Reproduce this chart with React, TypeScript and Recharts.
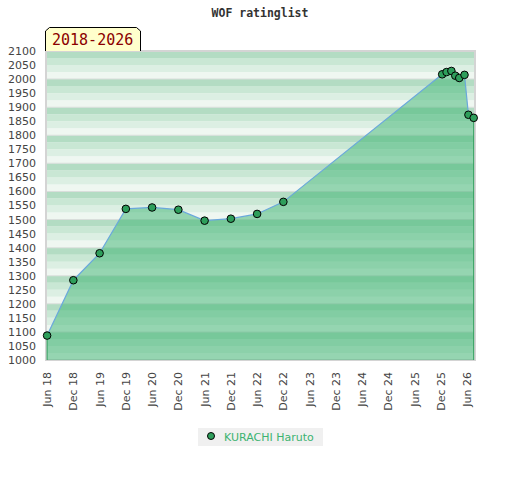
import React from 'react';
import { ComposedChart, Area, XAxis, YAxis, ReferenceArea, ReferenceLine } from 'recharts';

// months after June 2018 at which each rating was recorded
const monthsSinceJun2018 = [0, 6, 12, 18, 24, 30, 36, 42, 48, 54, 90.3, 91.3, 92.4, 93.3, 94.2, 95.4, 96.3, 97.5];
const ratings = [1087, 1284, 1380, 1538, 1543, 1535, 1496, 1503, 1520, 1563, 2017, 2025, 2029, 2012, 2004, 2015, 1873, 1862];

const xTickMonths = [0, 6, 12, 18, 24, 30, 36, 42, 48, 54, 60, 66, 72, 78, 84, 90, 96];
const xTickLabels = ['Jun 18', 'Dec 18', 'Jun 19', 'Dec 19', 'Jun 20', 'Dec 20', 'Jun 21', 'Dec 21', 'Jun 22', 'Dec 22', 'Jun 23', 'Dec 23', 'Jun 24', 'Dec 24', 'Jun 25', 'Dec 25', 'Jun 26'];
const leftTicks = [1000, 1050, 1100, 1150, 1200, 1250, 1300, 1350, 1400, 1450, 1500, 1550, 1600, 1650, 1700, 1750, 1800, 1850, 1900, 1950, 2000, 2050, 2100];
const rightTicks = [1000, 1100, 1200, 1300, 1400, 1500, 1600, 1700, 1800, 1900, 2000];
const rightLabels = [1000, 1200, 1400, 1600, 1800, 2000];
const bandStarts = Array.from({ length: 44 }, (_, i) => 1000 + i * 25);
const hundredLines = [1100, 1200, 1300, 1400, 1500, 1600, 1700, 1800, 1900, 2000];

const seriesName = 'KURACHI Haruto';
const titleText = 'WOF ratinglist';
const periodText = '2018-2026';

const data = monthsSinceJun2018.map((m, i) => ({ m, rating: ratings[i] }));
const X_DOMAIN: [number, number] = [-0.25, 97.8];
const bandColors = ['#eff7f1', '#dcefe3', '#c9e7d4', '#b3dcc3'];

const LeftTick = (props: any) => {
  const { x, y, payload } = props;
  return (
    <text x={x - 10} y={y} dy="0.36em" textAnchor="end" fontSize={11} fill="#444" fontFamily="DejaVu Sans">
      {payload.value}
    </text>
  );
};

const RightTick = (props: any) => {
  const { x, y, payload } = props;
  const show = rightLabels.includes(payload.value);
  return (
    <g>
      <line x1={x - 5} x2={x} y1={y} y2={y} stroke="#000" strokeWidth={1} />
      {show && (
        <text x={x + 7} y={y} dy="0.36em" textAnchor="start" fontSize={11} fill="#222" fontFamily="DejaVu Sans">
          {payload.value}
        </text>
      )}
    </g>
  );
};

const BottomTick = (props: any) => {
  const { x, y, payload } = props;
  const idx = xTickMonths.indexOf(payload.value);
  return (
    <g transform={`translate(${x},${y + 12})`}>
      <text transform="rotate(-90)" textAnchor="end" dy="0.36em" fontSize={11} fill="#444" fontFamily="DejaVu Sans">
        {xTickLabels[idx]}
      </text>
    </g>
  );
};

const Dot = (props: any) => {
  const { cx, cy, index } = props;
  return <circle key={`d${index}`} cx={cx} cy={cy} r={3.8} fill="#2e9e5b" stroke="#000" strokeWidth={1} />;
};

export default function App() {
  const last = data.length - 1;
  return (
    <div style={{ position: 'absolute', left: 0, top: 0, width: 520, height: 480, background: '#fff' }}>
      <ComposedChart width={520} height={480} data={data} margin={{ top: 51, right: 0, bottom: 70, left: 1 }}>
        <XAxis
          dataKey="m"
          type="number"
          domain={X_DOMAIN}
          ticks={xTickMonths}
          interval={0}
          axisLine={false}
          tickLine={false}
          tickSize={0}
          tickMargin={0}
          height={50}
          tick={<BottomTick />}
        />
        <YAxis
          yAxisId="left"
          orientation="left"
          type="number"
          domain={[1000, 2100]}
          ticks={leftTicks}
          interval={0}
          axisLine={false}
          tickLine={false}
          tickSize={0}
          tickMargin={0}
          width={45}
          tick={<LeftTick />}
        />
        <YAxis
          yAxisId="right"
          orientation="right"
          type="number"
          domain={[1000, 2100]}
          ticks={rightTicks}
          interval={0}
          axisLine={false}
          tickLine={false}
          tickSize={0}
          tickMargin={0}
          width={45}
          tick={<RightTick />}
        />
        {bandStarts.map((v) => (
          <ReferenceArea
            key={`b${v}`}
            yAxisId="left"
            x1={X_DOMAIN[0]}
            x2={X_DOMAIN[1]}
            y1={v}
            y2={v + 25}
            fill={bandColors[((v - 1000) % 100) / 25]}
            fillOpacity={1}
            stroke="none"
            ifOverflow="visible"
          />
        ))}
        {hundredLines.map((v) => (
          <ReferenceArea
            key={`h${v}`}
            yAxisId="left"
            x1={X_DOMAIN[0]}
            x2={X_DOMAIN[1]}
            y1={v - 1.8}
            y2={v + 1.8}
            fill="#d9dedb"
            fillOpacity={1}
            stroke="none"
            ifOverflow="visible"
          />
        ))}
        <ReferenceArea
          yAxisId="left"
          x1={X_DOMAIN[0]}
          x2={X_DOMAIN[1]}
          y1={1000}
          y2={2100}
          fill="none"
          stroke="#d4d4d4"
          strokeWidth={2}
          ifOverflow="visible"
        />
        <Area
          yAxisId="left"
          type="linear"
          dataKey="rating"
          name={seriesName}
          stroke="#6aa8dc"
          strokeWidth={1.2}
          fill="#3cb371"
          fillOpacity={0.5}
          dot={<Dot />}
          activeDot={false}
          baseValue={1000}
          isAnimationActive={false}
        />
        <ReferenceLine
          yAxisId="left"
          segment={[{ x: data[0].m, y: 1000 }, { x: data[0].m, y: data[0].rating }]}
          stroke="#2e9e5b"
          strokeWidth={1}
        />
        <ReferenceLine
          yAxisId="left"
          segment={[{ x: data[last].m, y: 1000 }, { x: data[last].m, y: data[last].rating }]}
          stroke="#2e9e5b"
          strokeWidth={1}
        />
      </ComposedChart>
      <svg width={520} height={480} style={{ position: 'absolute', left: 0, top: 0, pointerEvents: 'none' }}>
        <text x={260} y={17} textAnchor="middle" fontSize={11.5} fontWeight="bold" fill="#333" fontFamily="DejaVu Sans Mono">
          {titleText}
        </text>
        <path d="M45.5,51 L45.5,31 L49.5,27.5 L136.5,27.5 L140.5,31 L140.5,51" fill="#ffffcc" stroke="#000" strokeWidth={1} />
        <text x={52} y={45} fontSize={15} fill="#8b0000" fontFamily="DejaVu Sans Mono">
          {periodText}
        </text>
        <rect x={198} y={428} width={125} height={18} fill="#f0f0f0" />
        <circle cx={211} cy={436} r={3.5} fill="#2e9e5b" stroke="#000" strokeWidth={1} />
        <text x={224} y={440.5} fontSize={11} fill="#3cb371" fontFamily="DejaVu Sans">
          {seriesName}
        </text>
      </svg>
    </div>
  );
}
